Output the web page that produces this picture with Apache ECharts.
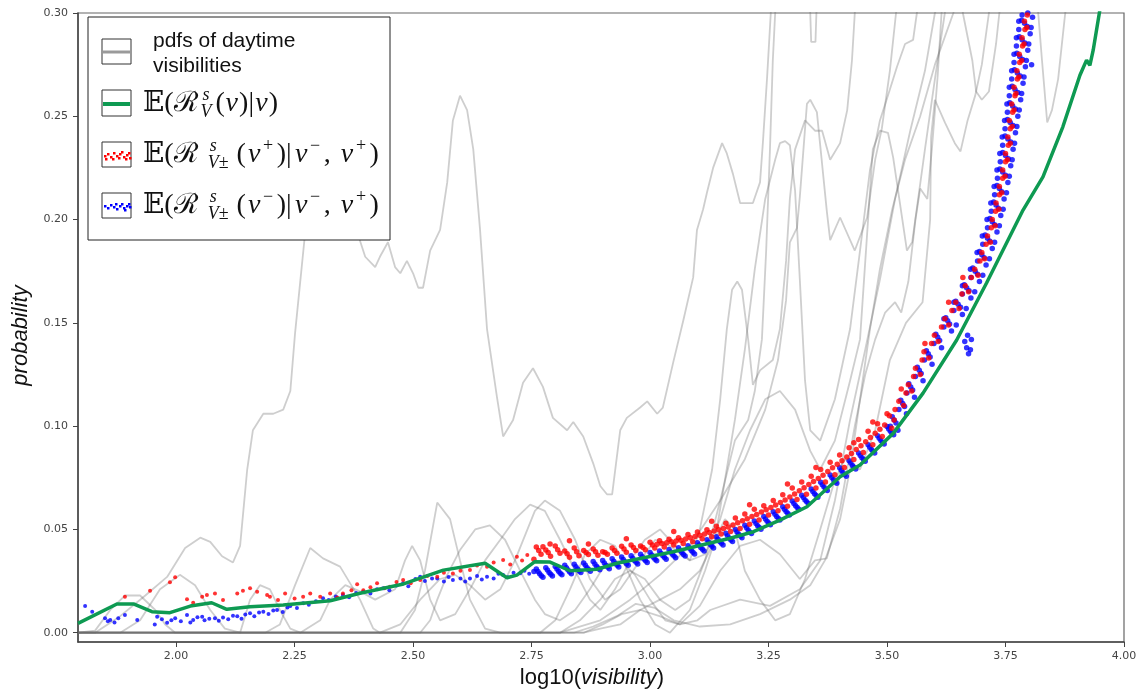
<!DOCTYPE html>
<html><head><meta charset="utf-8">
<script src="https://cdn.jsdelivr.net/npm/echarts@6/dist/echarts.min.js"></script>
<style>html,body{margin:0;padding:0;background:#fff}#c{width:1143px;height:691px}</style>
</head><body><div id="c"></div>
<script>
// ---------------- data ----------------
const xTicks = [2.00, 2.25, 2.50, 2.75, 3.00, 3.25, 3.50, 3.75, 4.00];
const yTicks = [0.00, 0.05, 0.10, 0.15, 0.20, 0.25, 0.30];

// pdfs of daytime visibilities (grey curves)
const pdfA = [[1.793,0],[1.829,0],[1.882,0.008],[1.935,0.018],[1.981,0.027],[2.019,0.041],[2.051,0.046],[2.072,0.044],[2.097,0.037],[2.120,0.034],[2.135,0.042],[2.150,0.079],[2.162,0.098],[2.184,0.106],[2.205,0.106],[2.226,0.108],[2.241,0.117],[2.251,0.145],[2.272,0.193],[2.293,0.234],[2.325,0.229],[2.357,0.214],[2.382,0.194],[2.399,0.182],[2.420,0.177],[2.430,0.182],[2.447,0.189],[2.462,0.177],[2.473,0.174],[2.487,0.180],[2.500,0.174],[2.511,0.167],[2.521,0.167],[2.536,0.185],[2.557,0.195],[2.572,0.218],[2.584,0.248],[2.599,0.260],[2.614,0.253],[2.627,0.234],[2.641,0.196],[2.656,0.147],[2.677,0.114],[2.690,0.095],[2.711,0.103],[2.732,0.121],[2.753,0.128],[2.774,0.119],[2.795,0.104],[2.825,0.098],[2.838,0.102],[2.859,0.095],[2.880,0.082],[2.895,0.071],[2.909,0.067],[2.920,0.067],[2.937,0.098],[2.951,0.104],[2.979,0.109],[2.994,0.112],[3.015,0.106],[3.027,0.109],[3.049,0.131],[3.070,0.151],[3.091,0.172],[3.099,0.195],[3.112,0.205],[3.120,0.213],[3.133,0.225],[3.152,0.237],[3.162,0.232],[3.175,0.222],[3.190,0.208],[3.217,0.208],[3.232,0.218],[3.238,0.237],[3.247,0.269],[3.255,0.301],[3.264,0.316],[3.300,0.330],[3.333,0.310],[3.338,0.300],[3.340,0.286],[3.349,0.286],[3.351,0.300],[3.355,0.310],[3.370,0.330]];
const pdfB = [[1.793,0],[2.810,0],[2.895,0.006],[2.958,0.016],[3.021,0.028],[3.084,0.042],[3.148,0.064],[3.200,0.084],[3.243,0.108],[3.270,0.132],[3.287,0.161],[3.295,0.189],[3.310,0.196],[3.316,0.211],[3.331,0.256],[3.338,0.258],[3.352,0.252],[3.373,0.204],[3.380,0.190],[3.401,0.201],[3.432,0.185],[3.458,0.201],[3.475,0.229],[3.489,0.244],[3.506,0.272],[3.519,0.300],[3.527,0.311]];
const pdfD = [[1.793,0],[2.188,0],[2.219,0.004],[2.251,0.023],[2.283,0.041],[2.310,0.036],[2.346,0.032],[2.367,0.024],[2.388,0.016],[2.416,0.002],[2.430,0],[2.515,0],[2.536,0.006],[2.551,0.016],[2.572,0.028],[2.599,0.040],[2.631,0.050],[2.662,0.052],[2.694,0.045],[2.726,0.030],[2.757,0.016],[2.778,0.009],[2.810,0.006],[2.842,0.011],[2.873,0.021],[2.905,0.033],[2.937,0.035],[2.968,0.028],[3.000,0.016],[3.032,0.006],[3.063,0.004],[3.105,0.013],[3.148,0.030],[3.190,0.042],[3.232,0.045],[3.274,0.038],[3.316,0.026],[3.348,0.035],[3.373,0.036],[3.401,0.060],[3.432,0.100],[3.454,0.125],[3.475,0.142],[3.496,0.155],[3.517,0.160],[3.530,0.155],[3.545,0.170],[3.560,0.200],[3.570,0.215],[3.585,0.210],[3.595,0.235],[3.607,0.270],[3.615,0.300],[3.620,0.310]];
const pdfE = [[1.793,0],[1.829,0.001],[1.861,0.011],[1.892,0.018],[1.924,0.018],[1.956,0.011],[1.977,0.004],[1.998,0],[2.135,0],[2.156,0.016],[2.177,0.023],[2.198,0.021],[2.219,0.011],[2.241,0.002],[2.262,0],[2.473,0],[2.504,0.011],[2.525,0.030],[2.551,0.063],[2.578,0.055],[2.599,0.035],[2.620,0.016],[2.652,0.002],[2.684,0],[2.768,0],[2.800,0.006],[2.831,0.021],[2.863,0.038],[2.895,0.045],[2.926,0.042],[2.947,0.033],[2.979,0.016],[3.011,0.004],[3.042,0],[3.084,0.011],[3.116,0.030],[3.137,0.045],[3.158,0.055],[3.179,0.050],[3.200,0.030],[3.232,0.016],[3.264,0.006],[3.295,0.009],[3.327,0.026],[3.359,0.050],[3.390,0.074],[3.411,0.084],[3.443,0.079],[3.475,0.098],[3.506,0.132],[3.540,0.150],[3.575,0.160],[3.591,0.200],[3.593,0.240],[3.601,0.258],[3.622,0.247],[3.643,0.237],[3.655,0.233],[3.670,0.248],[3.686,0.260],[3.700,0.275],[3.715,0.300],[3.725,0.315]];
const pdfF = [[1.793,0],[1.882,0],[1.924,0.006],[1.966,0.021],[2.008,0.028],[2.040,0.023],[2.072,0.011],[2.103,0.002],[2.135,0],[2.262,0],[2.304,0.006],[2.325,0.016],[2.357,0.023],[2.388,0.020],[2.420,0.016],[2.462,0.021],[2.483,0.035],[2.498,0.042],[2.515,0.035],[2.536,0.016],[2.557,0.006],[2.589,0.009],[2.620,0.021],[2.652,0.035],[2.684,0.045],[2.715,0.055],[2.747,0.062],[2.778,0.059],[2.810,0.045],[2.842,0.030],[2.873,0.016],[2.895,0.011],[2.926,0.021],[2.958,0.035],[2.989,0.045],[3.021,0.050],[3.053,0.042],[3.084,0.035],[3.116,0.038],[3.148,0.055],[3.179,0.079],[3.211,0.098],[3.243,0.113],[3.274,0.117],[3.306,0.108],[3.338,0.088],[3.359,0.079],[3.390,0.093],[3.422,0.122],[3.443,0.142],[3.470,0.234],[3.485,0.243],[3.502,0.242],[3.513,0.230],[3.542,0.185],[3.553,0.189],[3.580,0.234],[3.601,0.268],[3.622,0.300],[3.630,0.311]];
const pdfG = [[1.793,0],[2.430,0],[2.473,0.004],[2.515,0.016],[2.557,0.026],[2.589,0.028],[2.620,0.023],[2.652,0.016],[2.684,0.021],[2.715,0.035],[2.736,0.047],[2.757,0.059],[2.778,0.064],[2.810,0.059],[2.842,0.045],[2.873,0.026],[2.905,0.016],[2.937,0.021],[2.979,0.035],[3.011,0.045],[3.042,0.042],[3.084,0.035],[3.105,0.050],[3.131,0.079],[3.148,0.113],[3.162,0.147],[3.173,0.166],[3.184,0.170],[3.194,0.166],[3.207,0.142],[3.217,0.120],[3.232,0.127],[3.259,0.132],[3.274,0.147],[3.287,0.180],[3.295,0.210],[3.306,0.234],[3.327,0.248],[3.348,0.243],[3.363,0.243],[3.380,0.229],[3.401,0.237],[3.416,0.253],[3.426,0.277],[3.432,0.300],[3.436,0.311]];
const pdfH = [[1.793,0],[2.810,0],[2.852,0.006],[2.895,0.016],[2.926,0.026],[2.958,0.030],[2.989,0.026],[3.021,0.016],[3.053,0.011],[3.084,0.016],[3.116,0.035],[3.148,0.064],[3.179,0.093],[3.207,0.103],[3.221,0.117],[3.236,0.142],[3.245,0.185],[3.253,0.234],[3.259,0.277],[3.264,0.300],[3.266,0.311]];
const pdfI = [[1.793,0],[2.860,0],[2.895,0.002],[2.937,0.004],[2.979,0.011],[3.021,0.016],[3.063,0.021],[3.105,0.030],[3.137,0.045],[3.158,0.074],[3.179,0.103],[3.200,0.137],[3.221,0.176],[3.243,0.210],[3.264,0.229],[3.274,0.237],[3.285,0.238],[3.295,0.236],[3.306,0.214],[3.316,0.171],[3.327,0.122],[3.338,0.098],[3.359,0.093],[3.390,0.113],[3.422,0.147],[3.443,0.185],[3.464,0.224],[3.485,0.248],[3.506,0.263],[3.521,0.274],[3.538,0.285],[3.555,0.287],[3.563,0.300],[3.570,0.311]];
const pdfJ = [[1.793,0],[2.860,0],[2.900,0.004],[2.940,0.009],[2.980,0.011],[3.020,0.008],[3.063,0.004],[3.100,0.006],[3.127,0.011],[3.190,0.016],[3.253,0.013],[3.316,0.021],[3.359,0.035],[3.390,0.064],[3.422,0.103],[3.454,0.137],[3.485,0.171],[3.517,0.210],[3.549,0.243],[3.580,0.272],[3.601,0.300],[3.622,0.311],[3.810,0.320],[3.819,0.300],[3.827,0.277],[3.838,0.247],[3.848,0.253],[3.861,0.268],[3.876,0.300],[3.886,0.311]];
const pdfK = [[1.793,0],[2.840,0],[2.880,0.003],[2.930,0.008],[2.970,0.014],[3.010,0.012],[3.050,0.006],[3.105,0.003],[3.169,0.004],[3.232,0.009],[3.295,0.016],[3.338,0.023],[3.369,0.035],[3.401,0.055],[3.422,0.079],[3.443,0.113],[3.464,0.147],[3.485,0.176],[3.511,0.205],[3.538,0.229],[3.570,0.250],[3.601,0.275],[3.640,0.300],[3.650,0.315],[3.655,0.310],[3.660,0.300],[3.680,0.277],[3.688,0.262],[3.700,0.258],[3.715,0.262],[3.730,0.285],[3.737,0.300],[3.745,0.315]];
const pdfCurves = [pdfA, pdfB, pdfD, pdfE, pdfF, pdfG, pdfH, pdfI, pdfJ, pdfK];

// E(R_V^s(v)|v)  (green)
const greenMean = [[1.793,0.0045],[1.875,0.0139],[1.910,0.0139],[1.949,0.0102],[1.987,0.0097],[2.030,0.0129],[2.075,0.0145],[2.107,0.0113],[2.156,0.0126],[2.226,0.0134],[2.325,0.0155],[2.388,0.0191],[2.480,0.0236],[2.564,0.0303],[2.652,0.0336],[2.698,0.0266],[2.719,0.0279],[2.757,0.0344],[2.789,0.0342],[2.831,0.0300],[2.888,0.0307],[2.930,0.0336],[3.049,0.0392],[3.169,0.0457],[3.218,0.0489],[3.274,0.0545],[3.331,0.0610],[3.401,0.0755],[3.443,0.0812],[3.513,0.0965],[3.576,0.1160],[3.647,0.1417],[3.710,0.1693],[3.787,0.2046],[3.829,0.2207],[3.871,0.2449],[3.907,0.2699],[3.921,0.2772],[3.928,0.2747],[3.935,0.2820],[3.949,0.3014]];

// E(R_V±^s(v+)|v-,v+)  (red points)
const redPts = [[1.892,0.0174],[1.945,0.0203],[1.987,0.0244],[1.998,0.0268],[2.023,0.0162],[2.036,0.0145],[2.055,0.0174],[2.065,0.0182],[2.082,0.0190],[2.099,0.0158],[2.129,0.0190],[2.141,0.0203],[2.156,0.0215],[2.171,0.0198],[2.192,0.0182],[2.198,0.0174],[2.215,0.0158],[2.230,0.0190],[2.250,0.0165],[2.268,0.0174],[2.283,0.0190],[2.304,0.0174],[2.325,0.0190],[2.340,0.0170],[2.352,0.0190],[2.370,0.0205],[2.382,0.0235],[2.395,0.0206],[2.410,0.0220],[2.424,0.0239],[2.440,0.0215],[2.451,0.0223],[2.465,0.0245],[2.479,0.0255],[2.495,0.0240],[2.515,0.0255],[2.530,0.0275],[2.551,0.0271],[2.565,0.0290],[2.584,0.0287],[2.600,0.0300],[2.620,0.0303],[2.635,0.0325],[2.656,0.0319],[2.670,0.0340],[2.690,0.0352],[2.705,0.0330],[2.719,0.0368],[2.730,0.0350],[2.741,0.0376],[2.755,0.0355],[2.774,0.0416],[2.789,0.0429],
[2.76,0.0415],[2.77,0.0380],[2.78,0.0400],[2.79,0.0370],[2.80,0.0420],[2.81,0.0385],[2.82,0.0395],[2.83,0.0365],[2.84,0.0410],[2.85,0.0372],[2.86,0.0398],[2.87,0.0378],[2.88,0.0405],[2.89,0.0375],[2.90,0.0392],[2.91,0.0380],[2.92,0.0410],[2.93,0.0385],[2.94,0.0418],[2.95,0.0390],[2.96,0.0425],[2.97,0.0398],[2.98,0.0420],[2.99,0.0402],[3.00,0.0438],[3.01,0.0410],[3.02,0.0445],[3.03,0.0415],[3.04,0.0452],[3.05,0.0425],[3.06,0.0460],[3.07,0.0432],[3.08,0.0475],[3.09,0.0440],[3.10,0.0488],[3.11,0.0455],[3.12,0.0498],[3.13,0.0465],[3.14,0.0515],[3.15,0.0478],[3.16,0.0530],[3.17,0.0490],[3.18,0.0555],[3.19,0.0505],[3.20,0.0575],[3.21,0.0525],[3.22,0.0598],[3.23,0.0545],[3.24,0.0615],[3.25,0.0570],[3.26,0.0640],[3.27,0.0590],[3.28,0.0668],[3.29,0.0612],[3.30,0.0700],[3.31,0.0645],[3.32,0.0730],[3.33,0.0670],[3.34,0.0758],[3.35,0.0700],[3.36,0.0790],[3.37,0.0730],[3.38,0.0825],[3.39,0.0765],[3.40,0.0860],[3.41,0.0800],[3.42,0.0895],[3.43,0.0838],[3.44,0.0935],[3.45,0.0872],[3.46,0.0975],[3.47,0.0910],[3.48,0.1012],[3.49,0.0950],[3.50,0.1060],[3.51,0.0990],
[2.765,0.0398],[2.785,0.0388],[2.805,0.0402],[2.825,0.0382],[2.845,0.0392],[2.865,0.0388],[2.885,0.0392],[2.905,0.0388],[2.925,0.0398],[2.945,0.0405],[2.965,0.0412],[2.985,0.0412],
[3.005,0.0425],[3.025,0.0432],[3.045,0.0440],[3.065,0.0448],[3.085,0.0460],[3.105,0.0472],[3.125,0.0485],[3.145,0.0498],[3.165,0.0512],[3.185,0.0532],[3.205,0.0552],[3.225,0.0572],[3.245,0.0595],[3.265,0.0618],[3.285,0.0642],[3.305,0.0672],[3.325,0.0702],[3.345,0.0732],[3.365,0.0762],[3.385,0.0798],[3.405,0.0832],[3.425,0.0868],[3.445,0.0905],[3.465,0.0945],[3.485,0.0985],
[3.015,0.0428],[3.035,0.0436],[3.055,0.0444],[3.075,0.0454],[3.095,0.0466],[3.115,0.0478],[3.135,0.0492],[3.155,0.0505],[3.175,0.0522],[3.195,0.0542],[3.215,0.0562],[3.235,0.0584],[3.255,0.0606],[3.275,0.0630],[3.295,0.0657],[3.315,0.0687],[3.335,0.0717],[3.355,0.0747],[3.375,0.0780],[3.395,0.0815],[3.415,0.0850],[3.435,0.0887],[3.455,0.0925],[3.475,0.0965],[3.495,0.1005],
[2.83,0.0445],[2.87,0.0430],[2.95,0.0455],[3.05,0.0490],[3.13,0.0540],[3.21,0.0620],[3.29,0.0720],[3.35,0.0800],[3.43,0.0920],[3.47,0.1020],
[3.505,0.105],[3.515,0.103],[3.525,0.112],[3.535,0.110],[3.545,0.120],[3.552,0.117],[3.560,0.128],[3.570,0.125],[3.578,0.136],[3.588,0.133],[3.600,0.144],[3.608,0.141],[3.622,0.152],[3.630,0.149],[3.645,0.160],[3.652,0.157],[3.665,0.168],[3.672,0.165],[3.685,0.176],[3.692,0.173],[3.700,0.184],[3.706,0.181],[3.712,0.192],[3.718,0.189],[3.722,0.200],[3.728,0.197],[3.730,0.208],[3.736,0.205],[3.737,0.216],[3.742,0.213],[3.744,0.224],[3.749,0.221],[3.750,0.232],[3.754,0.229],[3.755,0.240],[3.760,0.237],[3.758,0.248],[3.764,0.245],[3.763,0.256],[3.768,0.253],[3.768,0.264],[3.772,0.261],[3.774,0.272],[3.778,0.269],[3.779,0.280],[3.784,0.277],[3.785,0.288],[3.789,0.285],[3.790,0.296],[3.795,0.293],
[3.517,0.108],[3.540,0.116],[3.556,0.124],[3.574,0.132],[3.594,0.140],[3.615,0.148],[3.637,0.156],[3.658,0.164],[3.678,0.172],[3.696,0.180],[3.709,0.188],[3.720,0.196],[3.729,0.204],[3.737,0.212],[3.744,0.220],[3.750,0.228],[3.756,0.236],[3.760,0.244],[3.765,0.252],[3.770,0.260],[3.775,0.268],[3.780,0.276],[3.786,0.284],[3.791,0.292],[3.796,0.299],
[3.53,0.118],[3.58,0.140],[3.63,0.160],[3.66,0.172]];

// E(R_V±^s(v-)|v-,v+)  (blue points)
const bluePts = [[1.808,0.0129],[1.823,0.0102],[1.850,0.0070],[1.856,0.0055],[1.861,0.0061],[1.870,0.0050],[1.878,0.0070],[1.892,0.0086],[1.918,0.0061],[1.955,0.0040],[1.960,0.0077],[1.970,0.0065],[1.981,0.0048],[1.990,0.0060],[1.998,0.0070],[2.010,0.0055],[2.023,0.0086],[2.030,0.0050],[2.036,0.0061],[2.045,0.0075],[2.055,0.0077],[2.060,0.0060],[2.070,0.0068],[2.082,0.0070],[2.090,0.0058],[2.099,0.0073],[2.110,0.0065],[2.120,0.0082],[2.129,0.0080],[2.138,0.0068],[2.146,0.0088],[2.156,0.0094],[2.165,0.0080],[2.175,0.0098],[2.184,0.0102],[2.195,0.0090],[2.205,0.0108],[2.213,0.0110],[2.225,0.0100],[2.235,0.0122],[2.241,0.0129],[2.255,0.0120],[2.268,0.0142],[2.280,0.0135],[2.295,0.0152],[2.310,0.0167],[2.322,0.0158],[2.337,0.0175],[2.352,0.0182],[2.365,0.0172],[2.380,0.0192],[2.395,0.0198],[2.410,0.0190],[2.424,0.0210],[2.437,0.0215],[2.450,0.0205],[2.465,0.0228],[2.479,0.0239],[2.490,0.0225],[2.505,0.0260],[2.515,0.0271],[2.525,0.0250],[2.540,0.0262],[2.551,0.0263],[2.565,0.0248],[2.575,0.0270],[2.584,0.0255],[2.600,0.0262],[2.610,0.0248],[2.620,0.0263],[2.635,0.0275],[2.645,0.0258],[2.656,0.0271],[2.670,0.0262],[2.680,0.0285],[2.690,0.0279],[2.700,0.0268],[2.712,0.0290],[2.726,0.0288],[2.735,0.0300],[2.745,0.0285],[2.755,0.0296],
[2.760,0.0308],[2.767,0.0285],[2.774,0.0268],[2.780,0.0315],[2.787,0.0292],[2.794,0.0275],[2.800,0.0320],[2.807,0.0297],[2.814,0.0280],[2.820,0.0326],[2.827,0.0303],[2.834,0.0286],[2.840,0.0331],[2.847,0.0308],[2.854,0.0291],[2.860,0.0338],[2.867,0.0315],[2.874,0.0298],[2.880,0.0345],[2.887,0.0322],[2.894,0.0305],[2.900,0.0350],[2.907,0.0327],[2.914,0.0310],[2.920,0.0358],[2.927,0.0335],[2.934,0.0318],[2.940,0.0366],[2.947,0.0343],[2.954,0.0326],[2.960,0.0373],[2.967,0.0350],[2.974,0.0333],[2.980,0.0380],[2.987,0.0357],[2.994,0.0340],[3.000,0.0388],[3.007,0.0365],[3.014,0.0348],[3.020,0.0396],[3.027,0.0373],[3.034,0.0356],[3.040,0.0403],[3.047,0.0380],[3.054,0.0363],[3.060,0.0411],[3.067,0.0388],[3.074,0.0371],[3.080,0.0421],[3.087,0.0398],[3.094,0.0381],[3.100,0.0436],[3.107,0.0413],[3.114,0.0396],[3.120,0.0450],[3.127,0.0427],[3.134,0.0410],[3.140,0.0465],[3.147,0.0442],[3.154,0.0425],[3.160,0.0481],[3.167,0.0458],[3.174,0.0441],[3.180,0.0500],[3.187,0.0477],[3.194,0.0460],[3.200,0.0520],[3.207,0.0497],[3.214,0.0480],[3.220,0.0541],[3.227,0.0518],[3.234,0.0501],[3.240,0.0563],[3.247,0.0540],[3.254,0.0523],[3.260,0.0586],[3.267,0.0563],[3.274,0.0546],[3.280,0.0610],[3.287,0.0587],[3.294,0.0570],[3.300,0.0638],[3.307,0.0615],[3.314,0.0598],[3.320,0.0666],[3.327,0.0643],[3.334,0.0626],[3.340,0.0696],[3.347,0.0673],[3.354,0.0656],[3.360,0.0728],[3.367,0.0705],[3.374,0.0688],[3.380,0.0763],[3.387,0.0740],[3.394,0.0723],[3.400,0.0798],[3.407,0.0775],[3.414,0.0758],[3.420,0.0833],[3.427,0.0810],[3.434,0.0793],[3.440,0.0870],[3.447,0.0847],[3.454,0.0830],[3.460,0.0910],[3.467,0.0887],[3.474,0.0870],[3.480,0.0953],[3.487,0.0930],[3.494,0.0913],[3.500,0.0998],[3.507,0.0975],[3.514,0.0958],
[2.7635,0.0296],[2.7705,0.0276],[2.7835,0.0303],[2.7905,0.0283],[2.8035,0.0308],[2.8105,0.0288],[2.8235,0.0314],[2.8305,0.0294],[2.8435,0.0319],[2.8505,0.0299],[2.8635,0.0326],[2.8705,0.0306],[2.8835,0.0333],[2.8905,0.0313],[2.9035,0.0338],[2.9105,0.0318],[2.9235,0.0346],[2.9305,0.0326],[2.9435,0.0354],[2.9505,0.0334],[2.9635,0.0361],[2.9705,0.0341],[2.9835,0.0368],[2.9905,0.0348],[3.0035,0.0376],[3.0105,0.0356],[3.0235,0.0384],[3.0305,0.0364],[3.0435,0.0391],[3.0505,0.0371],[3.0635,0.0399],[3.0705,0.0379],[3.0835,0.0409],[3.0905,0.0389],[3.1035,0.0424],[3.1105,0.0404],[3.1235,0.0438],[3.1305,0.0418],[3.1435,0.0453],[3.1505,0.0433],[3.1635,0.0469],[3.1705,0.0449],[3.1835,0.0488],[3.1905,0.0468],[3.2035,0.0508],[3.2105,0.0488],[3.2235,0.0529],[3.2305,0.0509],[3.2435,0.0551],[3.2505,0.0531],[3.2635,0.0574],[3.2705,0.0554],[3.2835,0.0598],[3.2905,0.0578],[3.3035,0.0626],[3.3105,0.0606],[3.3235,0.0654],[3.3305,0.0634],[3.3435,0.0684],[3.3505,0.0664],[3.3635,0.0716],[3.3705,0.0696],[3.3835,0.0751],[3.3905,0.0731],[3.4035,0.0786],[3.4105,0.0766],[3.4235,0.0821],[3.4305,0.0801],[3.4435,0.0858],[3.4505,0.0838],[3.4635,0.0898],[3.4705,0.0878],[3.4835,0.0941],[3.4905,0.0921],[3.5035,0.0986],[3.5105,0.0966],
[3.507,0.100],[3.515,0.103],[3.523,0.098],[3.525,0.108],[3.533,0.111],[3.541,0.106],[3.542,0.116],[3.550,0.119],[3.558,0.114],[3.560,0.124],[3.568,0.127],[3.576,0.122],[3.579,0.132],[3.587,0.135],[3.595,0.130],[3.599,0.140],[3.607,0.143],[3.615,0.138],[3.620,0.148],[3.628,0.151],[3.636,0.146],[3.641,0.156],[3.650,0.159],[3.659,0.154],[3.659,0.164],[3.668,0.167],[3.677,0.162],[3.677,0.172],[3.686,0.175],[3.695,0.170],[3.691,0.180],[3.700,0.183],[3.709,0.178],[3.702,0.188],[3.712,0.191],[3.722,0.186],[3.712,0.196],[3.722,0.199],[3.732,0.194],[3.720,0.204],[3.730,0.207],[3.740,0.202],[3.727,0.212],[3.737,0.215],[3.747,0.210],[3.733,0.220],[3.744,0.223],[3.755,0.218],[3.739,0.228],[3.750,0.231],[3.761,0.226],[3.744,0.236],[3.755,0.239],[3.766,0.234],[3.749,0.244],[3.760,0.247],[3.771,0.242],[3.754,0.252],[3.765,0.255],[3.776,0.250],[3.758,0.260],[3.770,0.263],[3.782,0.258],[3.763,0.268],[3.775,0.271],[3.787,0.266],[3.768,0.276],[3.780,0.279],[3.792,0.274],[3.773,0.284],[3.785,0.287],[3.797,0.282],[3.778,0.292],[3.790,0.295],[3.802,0.290],[3.785,0.299],[3.797,0.300],[3.807,0.298],
[3.511,0.1045],[3.519,0.1015],[3.529,0.1125],[3.537,0.1095],[3.546,0.1205],[3.554,0.1175],[3.564,0.1285],[3.572,0.1255],[3.583,0.1365],[3.591,0.1335],[3.603,0.1445],[3.611,0.1415],[3.624,0.1525],[3.632,0.1495],[3.645,0.1605],[3.655,0.1575],[3.663,0.1685],[3.673,0.1655],[3.681,0.1765],[3.691,0.1735],[3.695,0.1845],[3.705,0.1815],[3.707,0.1925],[3.717,0.1895],[3.717,0.2005],[3.727,0.1975],[3.725,0.2085],[3.735,0.2055],[3.732,0.2165],[3.742,0.2135],[3.738,0.2245],[3.750,0.2215],[3.744,0.2325],[3.756,0.2295],[3.749,0.2405],[3.761,0.2375],[3.754,0.2485],[3.766,0.2455],[3.759,0.2565],[3.771,0.2535],[3.764,0.2645],[3.776,0.2615],[3.769,0.2725],[3.781,0.2695],[3.774,0.2805],[3.786,0.2775],[3.779,0.2885],[3.791,0.2855],[3.784,0.2965],[3.796,0.2935],
[3.620,0.152],[3.646,0.149],[3.641,0.160],[3.667,0.157],[3.659,0.168],[3.685,0.165],[3.676,0.176],[3.702,0.173],[3.690,0.184],[3.716,0.181],[3.701,0.192],[3.727,0.189],[3.711,0.200],[3.737,0.197],[3.719,0.208],[3.745,0.205],[3.726,0.216],[3.752,0.213],[3.732,0.224],[3.758,0.221],[3.738,0.232],[3.764,0.229],[3.743,0.240],[3.769,0.237],[3.748,0.248],[3.774,0.245],[3.753,0.256],[3.779,0.253],[3.758,0.264],[3.784,0.261],[3.763,0.272],[3.789,0.269],[3.768,0.280],[3.794,0.277],[3.773,0.288],[3.799,0.285],[3.778,0.296],[3.804,0.293],
[3.664,0.141],[3.668,0.138],[3.672,0.135],[3.676,0.137],[3.670,0.144],[3.678,0.142],[3.805,0.275]];

// ---------------- chart ----------------
const chart = echarts.init(document.getElementById('c'), null, {renderer: 'canvas'});

const GREY = 'rgba(105,105,105,0.33)';
const GREEN = '#0e9a52';
function dotSize(v) { return v[0] >= 2.75 ? 5.5 : 4; }
const series = [];
pdfCurves.forEach(function (d) {
  series.push({type: 'line', data: d, symbol: 'none', silent: true, z: 1,
    lineStyle: {color: GREY, width: 1.8}, clip: true, animation: false});
});
series.push({type: 'scatter', data: bluePts, symbol: 'circle', symbolSize: dotSize,
  itemStyle: {color: '#0000ff'}, z: 2, silent: true, animation: false});
series.push({type: 'scatter', data: redPts, symbol: 'circle', symbolSize: dotSize,
  itemStyle: {color: '#ff0000'}, z: 3, silent: true, animation: false});
series.push({type: 'line', data: greenMean, symbol: 'none', z: 4, silent: true,
  lineStyle: {color: GREEN, width: 3.5}, clip: true, animation: false});

// ----- legend built from graphic elements -----
const cv = document.createElement('canvas').getContext('2d');
function tw(font, t) { cv.font = font; return cv.measureText(t).width; }
const MF = 28, SF = 18;
const mainFont = MF + "px 'Liberation Serif','DejaVu Serif',serif";
const itFont = "italic " + MF + "px 'Liberation Serif','DejaVu Serif',serif";
const scFont = SF + "px 'Liberation Serif','DejaVu Serif',serif";
const scItFont = "italic " + SF + "px 'Liberation Serif','DejaVu Serif',serif";

function mathLabel(x0, yc, targetEnd, parts) {
  const items = [];
  parts.forEach(function (p) {
    if (p.t !== undefined) {
      const f = p.i ? itFont : mainFont;
      items.push({kind: 'm', t: p.t, f: f, w: tw(f, p.t)});
    } else {
      const sup = p.sup || [], sub = p.sub || [];
      let ws = 0, wb = 0;
      sup.forEach(function (s) { ws += tw(s[1] ? scItFont : scFont, s[0]); });
      sub.forEach(function (s) { wb += tw(s[1] ? scItFont : scFont, s[0]); });
      items.push({kind: 's', sup: sup, sub: sub, w: Math.max(ws, wb) + 1});
    }
  });
  let total = 0; items.forEach(function (it) { total += it.w; });
  const k = (targetEnd - x0) / total;
  const els = [];
  let x = x0;
  items.forEach(function (it) {
    if (it.kind === 'm') {
      els.push({type: 'text', x: x, y: yc, z: 101,
        style: {text: it.t, font: it.f, fill: '#111', align: 'left', verticalAlign: 'middle'}});
    } else {
      let xs = x;
      it.sup.forEach(function (s) {
        const f = s[1] ? scItFont : scFont;
        els.push({type: 'text', x: xs, y: yc - 9, z: 101,
          style: {text: s[0], font: f, fill: '#111', align: 'left', verticalAlign: 'middle'}});
        xs += tw(f, s[0]);
      });
      xs = x - 2;
      it.sub.forEach(function (s) {
        const f = s[1] ? scItFont : scFont;
        els.push({type: 'text', x: xs, y: yc + 8, z: 101,
          style: {text: s[0], font: f, fill: '#111', align: 'left', verticalAlign: 'middle'}});
        xs += tw(f, s[0]);
      });
    }
    x += it.w * k;
  });
  return els;
}

const L = [];
L.push({type: 'rect', shape: {x: 88, y: 17, width: 302, height: 223}, z: 100,
  style: {fill: '#fff', stroke: '#222', lineWidth: 1}});
[[39, 25], [90, 26], [142, 25], [193, 25]].forEach(function (b) {
  L.push({type: 'rect', shape: {x: 102, y: b[0], width: 29, height: b[1]}, z: 101,
    style: {fill: '#fff', stroke: '#333', lineWidth: 1}});
});
L.push({type: 'line', shape: {x1: 103, y1: 52, x2: 130, y2: 52}, z: 102,
  style: {stroke: '#9a9a9a', lineWidth: 3}});
L.push({type: 'line', shape: {x1: 103, y1: 104, x2: 130, y2: 104}, z: 102,
  style: {stroke: GREEN, lineWidth: 4}});
[[104,155],[107,153],[110,156],[113,152],[116,155],[119,153],[121,151],[123,156],[126,154],[128,152],[129,157],[105,158],[112,158],[118,157],[125,158]].forEach(function (p) {
  L.push({type: 'rect', shape: {x: p[0], y: p[1], width: 2.5, height: 2.5}, z: 102, style: {fill: '#ff0000'}});
});
[[104,205],[107,207],[110,204],[113,206],[116,208],[119,205],[121,203],[123,207],[126,205],[128,203],[129,206],[115,203],[124,209]].forEach(function (p) {
  L.push({type: 'rect', shape: {x: p[0], y: p[1], width: 2.5, height: 2.5}, z: 102, style: {fill: '#0000ff'}});
});
const sansFont = "21px 'Liberation Sans', Arial, sans-serif";
L.push({type: 'text', x: 153, y: 41, z: 101, style: {text: 'pdfs of daytime', font: sansFont, fill: '#111', align: 'left', verticalAlign: 'middle'}});
L.push({type: 'text', x: 153, y: 66, z: 101, style: {text: 'visibilities', font: sansFont, fill: '#111', align: 'left', verticalAlign: 'middle'}});

const m2 = mathLabel(143, 104, 279, [
  {t: '𝔼(ℛ'}, {sup: [['s', 1]], sub: [['V', 1]]}, {t: '('}, {t: 'v', i: 1}, {t: ')|'}, {t: 'v', i: 1}, {t: ')'}]);
const m3 = mathLabel(143, 155, 381, [
  {t: '𝔼(ℛ'}, {sup: [['s', 1]], sub: [['V', 1], ['±', 0]]}, {t: '('}, {t: 'v', i: 1}, {sup: [['+', 0]]},
  {t: ')|'}, {t: 'v', i: 1}, {sup: [['−', 0]]}, {t: ', '}, {t: 'v', i: 1}, {sup: [['+', 0]]}, {t: ')'}]);
const m4 = mathLabel(143, 206, 381, [
  {t: '𝔼(ℛ'}, {sup: [['s', 1]], sub: [['V', 1], ['±', 0]]}, {t: '('}, {t: 'v', i: 1}, {sup: [['−', 0]]},
  {t: ')|'}, {t: 'v', i: 1}, {sup: [['−', 0]]}, {t: ', '}, {t: 'v', i: 1}, {sup: [['+', 0]]}, {t: ')'}]);
const legendEls = L.concat(m2, m3, m4);

const option = {
  animation: false,
  backgroundColor: '#fff',
  grid: {left: 78, right: 19, top: 13, bottom: 49, show: true, borderColor: '#666', borderWidth: 1.2,
    containLabel: false, outerBoundsMode: 'none'},
  xAxis: {
    type: 'value', min: 1.793, max: 4.0,
    splitLine: {show: false},
    axisLine: {show: true, onZero: false, lineStyle: {color: '#444', width: 1.5}},
    axisTick: {show: true, length: 5, customValues: xTicks, lineStyle: {color: '#444', width: 1}},
    axisLabel: {customValues: xTicks, formatter: function (v) { return v.toFixed(2); },
      color: '#444', fontSize: 11, fontFamily: 'DejaVu Sans', margin: 9},
    name: '{a|log10(}{b|visibility}{a|)}', nameLocation: 'middle', nameGap: 25,
    nameTextStyle: {padding: [0, 18, 0, 0], rich: {
      a: {fontSize: 22, fontFamily: 'Liberation Sans', color: '#111'},
      b: {fontSize: 22, fontFamily: 'Liberation Sans', fontStyle: 'italic', color: '#111'}}}
  },
  yAxis: {
    type: 'value', min: -0.0045, max: 0.30,
    splitLine: {show: false},
    axisLine: {show: true, onZero: false, lineStyle: {color: '#444', width: 1.5}},
    axisTick: {show: true, length: 5, customValues: yTicks, lineStyle: {color: '#444', width: 1}},
    axisLabel: {customValues: yTicks, formatter: function (v) { return v.toFixed(2); },
      color: '#444', fontSize: 11, fontFamily: 'DejaVu Sans', margin: 10},
    name: '{b|probability}', nameLocation: 'middle', nameGap: 46, nameRotate: 90,
    nameTextStyle: {padding: [0, 16, 0, 0], rich: {b: {fontSize: 22, fontFamily: 'Liberation Sans', fontStyle: 'italic', color: '#111'}}}
  },
  series: series,
  graphic: {elements: legendEls}
};
chart.setOption(option);
</script></body></html>
